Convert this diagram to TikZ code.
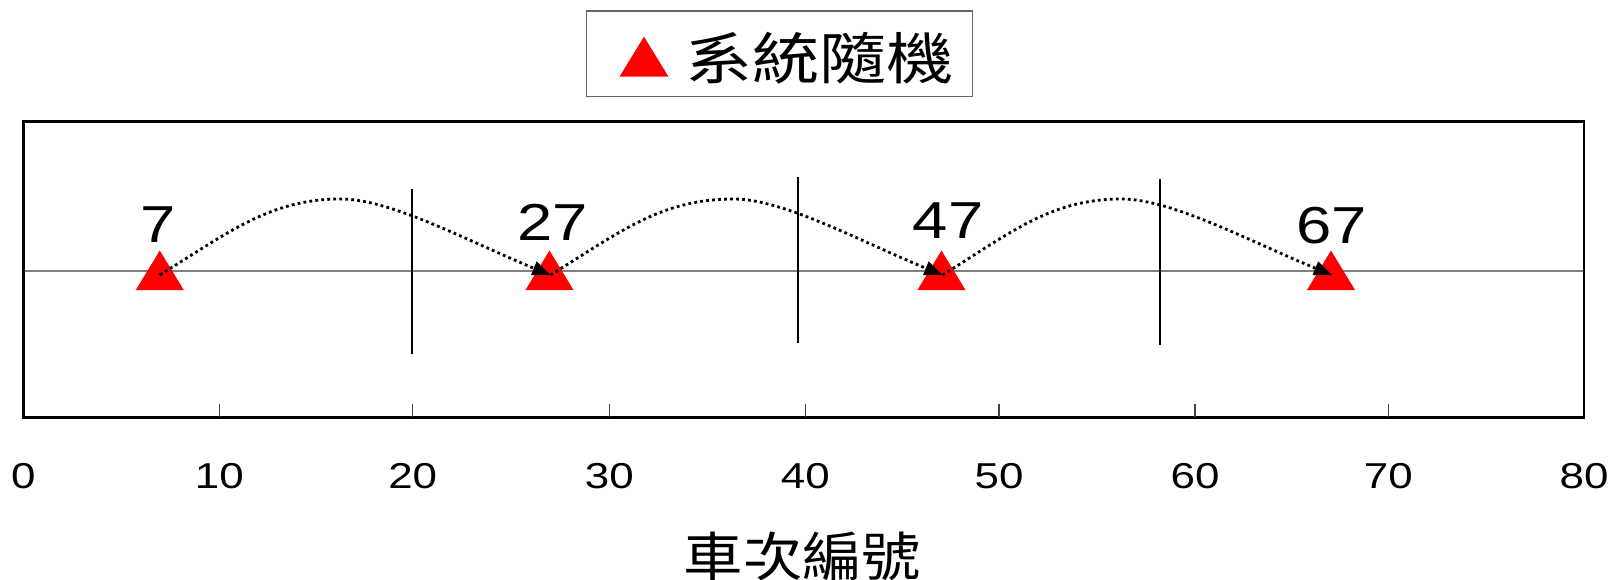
\documentclass[tikz,border=0pt]{standalone}
\usepackage{fontspec}
\setmainfont{Liberation Sans}
\newfontfamily\cjkfont{Noto Sans CJK TC}
\usetikzlibrary{arrows.meta,calc}
\newcommand\hstretch[2]{\scalebox{#1}[1]{#2}}
\begin{document}
\begin{tikzpicture}[x=1pt,y=-1pt,
  frame/.style={line width=2.6pt,black},
  legendbox/.style={line width=1.5pt,black!60},
  tickmark/.style={line width=1.3pt,black!75},
  divider/.style={line width=2pt,black},
  midline/.style={line width=1.5pt,black!50},
  jump/.style={line width=2.8pt,line cap=butt,dash pattern=on 2.8pt off 3.2pt,
    -{Triangle[length=18pt,width=14pt]}},
  numlabel/.style={inner sep=0pt,font=\fontsize{52}{52}\selectfont},
  axislabel/.style={inner sep=0pt,font=\fontsize{36}{36}\selectfont},
  cjklabel/.style={inner sep=0pt},
  marker/.style={fill=red},
]
\useasboundingbox (0,0) rectangle (1612,580);

% legend
\node[legendbox,draw,minimum width=386pt,minimum height=85.7pt,inner sep=0pt] (legend) at (779.7,53.85) {};
\coordinate (lgtri) at (644,56.7);
\fill[marker] (lgtri) ++(-24.5,20) -- ++(24.5,-40) -- ++(24.5,40) -- cycle;
\node[cjklabel] (legendtext) at (819.5,58.3) {\hstretch{1.2}{\fontsize{56}{56}\cjkfont 系統隨機}};

% mid line
\coordinate (ml) at (23.3,271);
\coordinate (mr) at (1584,271);
\draw[midline] (ml) -- (mr);

% dividers
\coordinate (d1a) at (411.7,189);   \coordinate (d1b) at (411.7,354.3);
\coordinate (d2a) at (798.3,177.3); \coordinate (d2b) at (798.3,342.7);
\coordinate (d3a) at (1160,179.3);  \coordinate (d3b) at (1160,345.3);
\draw[divider] (d1a) -- (d1b);
\draw[divider] (d2a) -- (d2b);
\draw[divider] (d3a) -- (d3b);

% markers
\coordinate (t7) at (159.8,275);
\coordinate (t27) at (550.5,275);
\coordinate (t47) at (942.5,275);
\coordinate (t67) at (1332,275);
\foreach \n/\dx in {t7/0,t27/-1,t47/-1,t67/-1}
  \fill[marker] (\n) ++(-24+\dx,15) -- ++(24,-39.5) -- ++(24,39.5) -- cycle;

% jumps
\draw[jump] (t7) .. controls ($(t7)+(68,-42)$) and ($(t7)+(110,-76)$) .. ($(t7)+(181,-76)$)
  .. controls ($(t7)+(231,-76)$) and ($(t27)+(-83,-34)$) .. (t27);
\draw[jump] (t27) .. controls ($(t27)+(68,-42)$) and ($(t27)+(110,-76)$) .. ($(t27)+(183,-76)$)
  .. controls ($(t27)+(233,-76)$) and ($(t47)+(-83,-34)$) .. (t47);
\draw[jump] (t47) .. controls ($(t47)+(68,-42)$) and ($(t47)+(108,-76)$) .. ($(t47)+(179,-76)$)
  .. controls ($(t47)+(229,-76)$) and ($(t67)+(-83,-34)$) .. (t67);

% number labels
\node[numlabel] (n7)  at (157.8,225) {\hstretch{1.22}{7}};
\node[numlabel] (n27) at (552.7,222) {\hstretch{1.22}{27}};
\node[numlabel] (n47) at (948,220.2) {\hstretch{1.22}{47}};
\node[numlabel] (n67) at (1331.3,225.3) {\hstretch{1.22}{67}};

% frame
\draw[frame] (23.3,121.7) rectangle (1584,417.3);

% ticks and axis labels
\foreach \v/\x in {10/219.3,20/412.7,30/609.3,40/805.3,50/999,60/1195,70/1388.3} {
  \coordinate (tk\v) at (\x,417.3);
  \draw[tickmark] (tk\v) -- ++(0,-13);
}
\foreach \v/\x in {0/23.3,10/219.3,20/412.7,30/609.3,40/805.3,50/999,60/1195,70/1388.3,80/1584}
  \node[axislabel] (ax\v) at (\x,476) {\hstretch{1.22}{\v}};

% axis title
\node[cjklabel] (title) at (802.5,556) {\hstretch{1.12}{\fontsize{53}{53}\cjkfont 車次編號}};
\end{tikzpicture}
\end{document}
